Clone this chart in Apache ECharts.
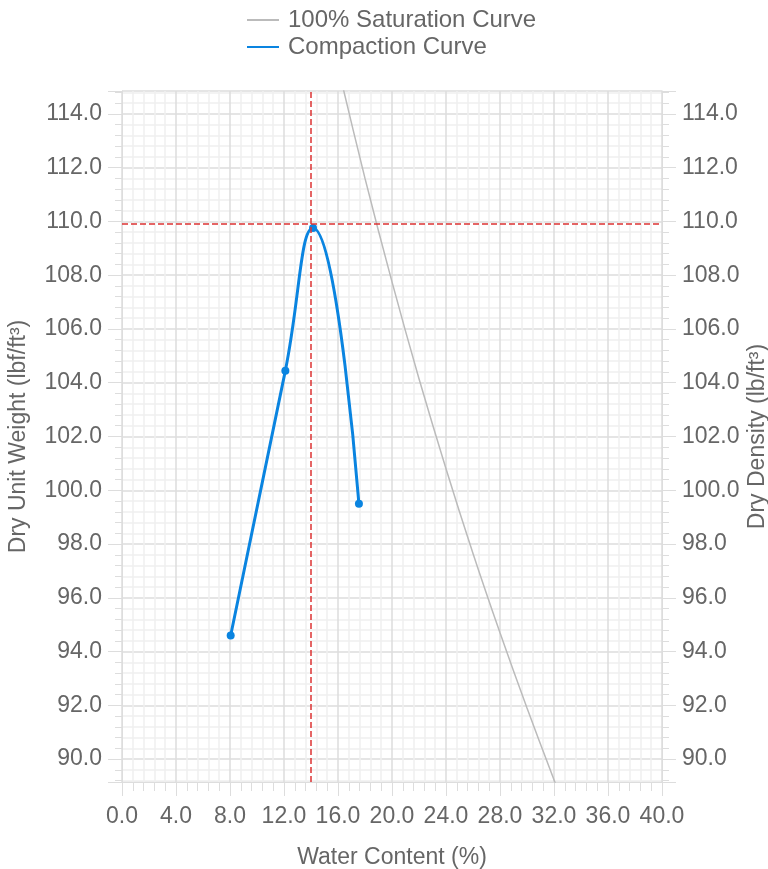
<!DOCTYPE html>
<html>
<head>
<meta charset="utf-8">
<script src="https://cdn.jsdelivr.net/npm/echarts@6/dist/echarts.min.js"></script>
<style>html,body{margin:0;padding:0;background:#fff}#c{width:768px;height:869px}</style>
</head>
<body>
<div id="c"></div>
<script>
// Compaction test points [water content %, dry unit weight lbf/ft3]
const compactionPoints = [[8.05, 94.6], [12.1, 104.45], [14.15, 109.75], [17.55, 99.5]];
// 100% saturation (zero air voids) curve
const saturationPoints = [[16.0, 115.75], [18.0, 111.6], [20.0, 107.75], [22.0, 104.15], [24.0, 100.8], [26.0, 97.65], [28.0, 94.7], [30.0, 91.9], [32.1, 89.1]];
// Optimum moisture content and maximum dry unit weight (dashed guides)
const optimumWater = 13.95;
const maxDryWeight = 109.9;
// Axis ranges
const xRange = [0, 40];
const xStep = 4;
const yRange = [89.15, 114.85];
const seriesNames = ['100% Saturation Curve', 'Compaction Curve'];
const axisNames = {x: 'Water Content (%)', yLeft: 'Dry Unit Weight (lbf/ft³)', yRight: 'Dry Density (lb/ft³)'};

const FONT = "'Liberation Sans', Arial, sans-serif";
const TXT = '#666';
const FS = 23;
const majorLine = '#dddddd';
const minorLine = '#f0f0f0';

function yAxisCfg(pos, name, gap) {
  return {
    type: 'value', position: pos, min: yRange[0], max: yRange[1], splitNumber: 13,
    name: name, nameLocation: 'middle', nameGap: gap, nameMoveOverlap: false,
    nameTextStyle: {fontSize: FS, color: TXT, fontFamily: FONT},
    axisLine: {show: true, lineStyle: {color: majorLine}},
    axisTick: {show: true, length: 14, lineStyle: {color: majorLine}},
    minorTick: {show: true, splitNumber: 5, length: 7, lineStyle: {color: majorLine}},
    splitLine: {show: pos === 'left', lineStyle: {color: majorLine, width: 1.5}},
    minorSplitLine: {show: pos === 'left', lineStyle: {color: minorLine, width: 1.5}},
    axisLabel: {fontSize: FS, color: TXT, fontFamily: FONT, margin: 20, padding: [5, 0, 0, 0],
      showMinLabel: false, showMaxLabel: false, formatter: v => v.toFixed(1)}
  };
}

const chart = echarts.init(document.getElementById('c'), null, {renderer: 'canvas'});
chart.setOption({
  animation: false,
  backgroundColor: '#fff',
  textStyle: {fontFamily: FONT},
  legend: {
    orient: 'vertical', left: 241, top: 3, itemGap: 3, itemWidth: 32, itemHeight: 14,
    textStyle: {fontSize: 24, color: TXT, fontFamily: FONT, padding: [0, 0, 0, 4]},
    itemStyle: {opacity: 0},
    data: seriesNames
  },
  grid: {left: 122, right: 106, top: 91, bottom: 87, containLabel: false, outerBoundsMode: 'none'},
  xAxis: {
    type: 'value', min: xRange[0], max: xRange[1], interval: xStep,
    name: axisNames.x, nameLocation: 'middle', nameGap: 64, nameMoveOverlap: false,
    nameTextStyle: {fontSize: FS, color: TXT, fontFamily: FONT},
    axisLine: {show: true, lineStyle: {color: majorLine}},
    axisTick: {show: true, length: 14, lineStyle: {color: majorLine}},
    minorTick: {show: true, splitNumber: 5, length: 9, lineStyle: {color: majorLine}},
    splitLine: {show: true, lineStyle: {color: majorLine, width: 1.5}},
    minorSplitLine: {show: true, lineStyle: {color: minorLine, width: 1.5}},
    axisLabel: {fontSize: FS, color: TXT, fontFamily: FONT, margin: 23, formatter: v => v.toFixed(1)}
  },
  yAxis: [yAxisCfg('left', axisNames.yLeft, 92), yAxisCfg('right', axisNames.yRight, 84)],
  series: [
    {
      name: seriesNames[0], type: 'line', data: saturationPoints, smooth: 0.3,
      showSymbol: false, symbol: 'none', clip: true,
      lineStyle: {color: '#bbbbbb', width: 1.5}, itemStyle: {color: '#bbbbbb'}
    },
    {
      name: seriesNames[1], type: 'line', data: compactionPoints, smooth: true,
      symbol: 'circle', symbolSize: 8, showSymbol: true,
      lineStyle: {color: '#0a84e0', width: 3}, itemStyle: {color: '#0a84e0'},
      markLine: {
        silent: true, symbol: 'none', label: {show: false},
        lineStyle: {color: '#dd3333', type: 'dashed', width: 1.5},
        data: [{xAxis: optimumWater}, {yAxis: maxDryWeight}]
      }
    }
  ]
});
</script>
</body>
</html>
